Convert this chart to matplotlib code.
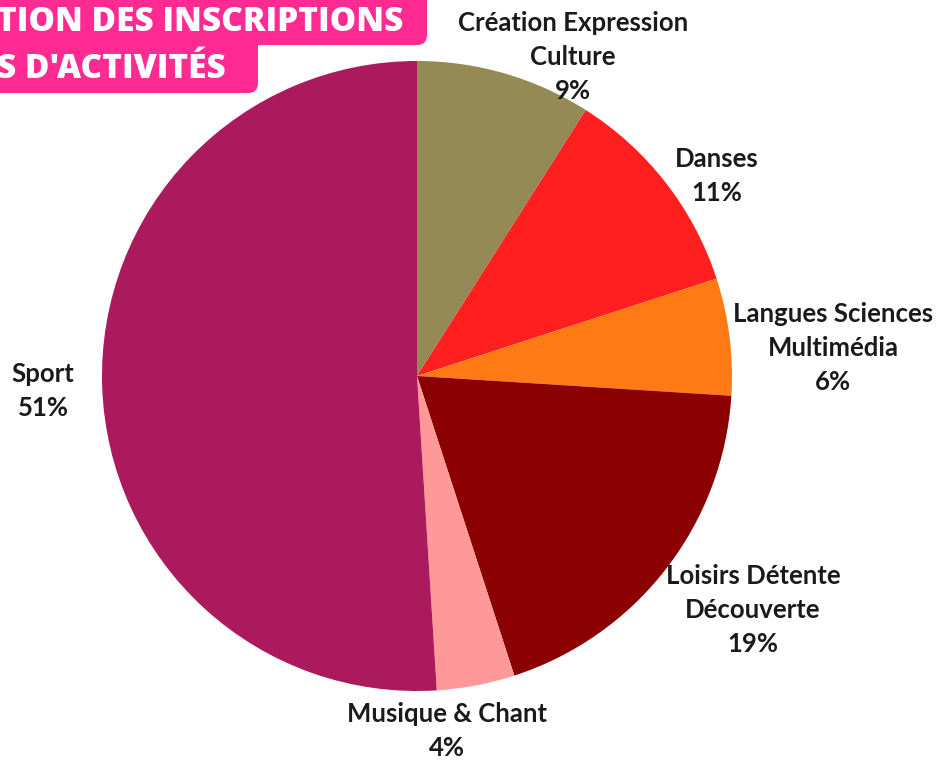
import matplotlib.pyplot as plt
from matplotlib.patches import FancyBboxPatch

plt.rcParams["font.family"] = ["Lato", "DejaVu Sans"]

# data (clockwise from 12 o'clock)
categories = ["Création Expression\nCulture", "Danses", "Langues Sciences\nMultimédia",
              "Loisirs Détente\nDécouverte", "Musique & Chant", "Sport"]
shares = [9, 11, 6, 19, 4, 51]
colors = ["#958a55", "#ff1f1f", "#ff7a14", "#8b0000", "#ff9999", "#aa1a5c"]

# label anchor positions in pixel space (x, y from top)
label_pos = [(573, 57), (717, 176), (833, 348), (753, 610), (447, 731), (43, 391)]

W, H = 942, 760
fig = plt.figure(figsize=(W / 100, H / 100), dpi=100)
fig.patch.set_facecolor("white")
ax = fig.add_axes([0, 0, 1, 1])

cx, cy, r = 417, H - 376, 315
ax.pie(shares, colors=colors, startangle=90, counterclock=False,
       center=(cx, cy), radius=r, wedgeprops=dict(linewidth=0))

for name, val, (x, y) in zip(categories, shares, label_pos):
    ax.text(x, H - y, f"{name}\n{val}%", ha="center", va="center",
            fontsize=18.5, fontweight="bold", color="#1a1a1a", linespacing=1.5)

# pink title banners (cut off on the left, as in the source image)
pink = "#ff2a92"
ax.add_patch(FancyBboxPatch((-40, H - 45), 467, 60, boxstyle="round,pad=0,rounding_size=10",
                            facecolor=pink, edgecolor="none", zorder=5))
ax.add_patch(FancyBboxPatch((-40, H - 93), 298, 60, boxstyle="round,pad=0,rounding_size=10",
                            facecolor=pink, edgecolor="none", zorder=5))
ax.text(-3, H - 22, "TION DES INSCRIPTIONS", ha="left", va="center", fontsize=24,
        fontweight="black", color="white", zorder=6, family=["Open Sans", "DejaVu Sans"])
ax.text(-3, H - 69, "S D'ACTIVITÉS", ha="left", va="center", fontsize=24,
        fontweight="black", color="white", zorder=6, family=["Open Sans", "DejaVu Sans"])

ax.set_xlim(0, W)
ax.set_ylim(0, H)
ax.set_aspect("equal")
ax.axis("off")

fig.savefig("out.png", dpi=100, facecolor="white")
